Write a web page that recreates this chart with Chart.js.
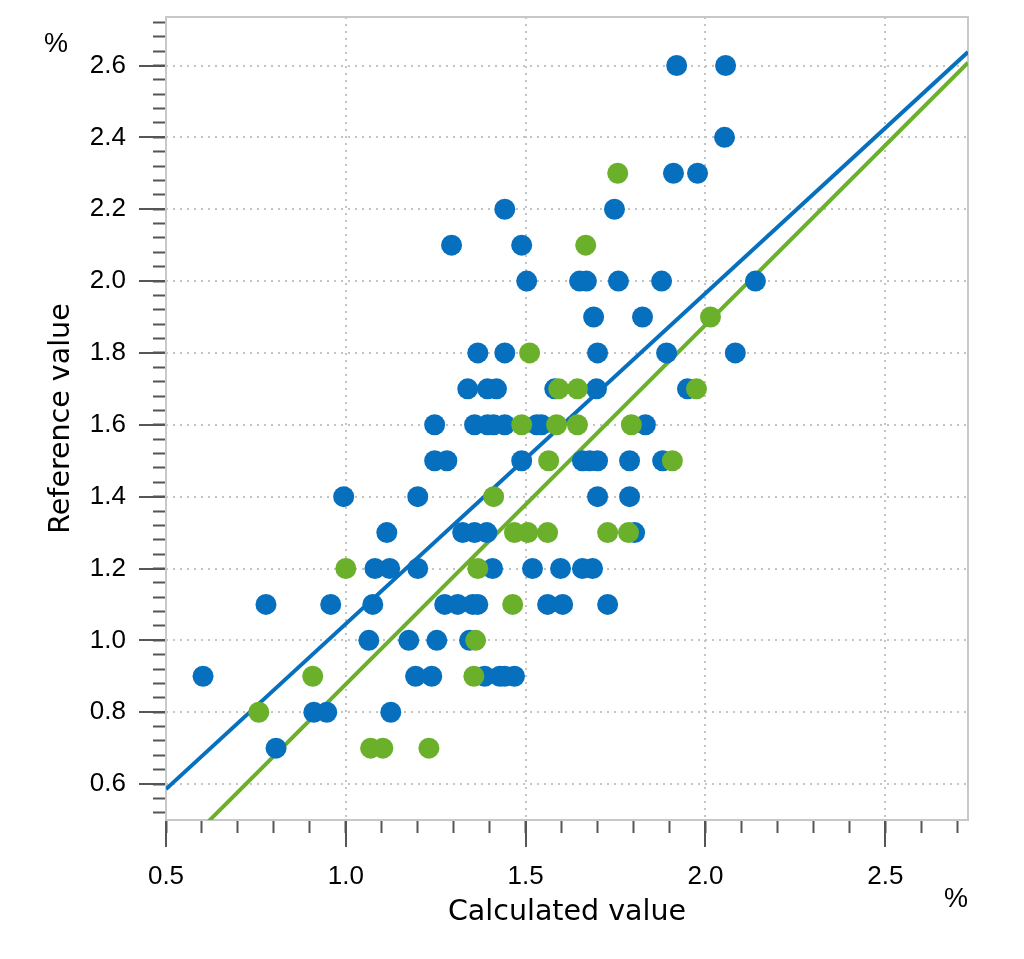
<!DOCTYPE html>
<html>
<head>
<meta charset="utf-8">
<script src="https://cdn.jsdelivr.net/npm/chart.js@4"></script>
<style>
  html, body { margin: 0; padding: 0; background: #fff; }
  #wrap { width: 1024px; height: 959px; }
</style>
</head>
<body>
<div id="wrap"><canvas id="myChart" width="1024" height="959"></canvas></div>
<script>
// valeurs (calculé = x, référence = y)
const calcBlue = [
  1.92, 2.056, 2.053, 1.911, 1.978, 1.442, 1.747, 1.294, 1.489,
  1.503, 1.65, 1.669, 1.758, 1.878, 2.139, 1.689, 1.825,
  1.367, 1.442, 1.70, 1.892, 2.083,
  1.339, 1.394, 1.419, 1.581, 1.697, 1.95,
  1.247, 1.358, 1.394, 1.411, 1.442, 1.531, 1.544, 1.833,
  1.247, 1.281, 1.489, 1.658, 1.678, 1.70, 1.789, 1.881,
  0.994, 1.20, 1.70, 1.789,
  1.114, 1.325, 1.358, 1.392, 1.803,
  1.081, 1.122, 1.20, 1.408, 1.519, 1.597, 1.658, 1.686,
  0.778, 0.958, 1.075, 1.275, 1.311, 1.353, 1.367, 1.561, 1.603, 1.728,
  1.064, 1.175, 1.253, 1.344,
  0.603, 1.194, 1.239, 1.386, 1.428, 1.442, 1.469,
  0.911, 0.947, 1.125,
  0.806
];
const refBlue = [
  2.6, 2.6, 2.4, 2.3, 2.3, 2.2, 2.2, 2.1, 2.1,
  2.0, 2.0, 2.0, 2.0, 2.0, 2.0, 1.9, 1.9,
  1.8, 1.8, 1.8, 1.8, 1.8,
  1.7, 1.7, 1.7, 1.7, 1.7, 1.7,
  1.6, 1.6, 1.6, 1.6, 1.6, 1.6, 1.6, 1.6,
  1.5, 1.5, 1.5, 1.5, 1.5, 1.5, 1.5, 1.5,
  1.4, 1.4, 1.4, 1.4,
  1.3, 1.3, 1.3, 1.3, 1.3,
  1.2, 1.2, 1.2, 1.2, 1.2, 1.2, 1.2, 1.2,
  1.1, 1.1, 1.1, 1.1, 1.1, 1.1, 1.1, 1.1, 1.1, 1.1,
  1.0, 1.0, 1.0, 1.0,
  0.9, 0.9, 0.9, 0.9, 0.9, 0.9, 0.9,
  0.8, 0.8, 0.8,
  0.7
];
const calcGreen = [
  1.756, 1.667, 2.014, 1.511,
  1.592, 1.644, 1.975,
  1.489, 1.586, 1.644, 1.794,
  1.564, 1.908, 1.411,
  1.469, 1.506, 1.561, 1.728, 1.786,
  1.0, 1.367, 1.464, 1.361,
  0.908, 1.356, 0.758,
  1.069, 1.103, 1.231
];
const refGreen = [
  2.3, 2.1, 1.9, 1.8,
  1.7, 1.7, 1.7,
  1.6, 1.6, 1.6, 1.6,
  1.5, 1.5, 1.4,
  1.3, 1.3, 1.3, 1.3, 1.3,
  1.2, 1.2, 1.1, 1.0,
  0.9, 0.9, 0.8,
  0.7, 0.7, 0.7
];
// droites de régression : [pente, ordonnée à l'origine]
const fitBlue = [0.92, 0.126];
const fitGreen = [1.0, -0.122];
// bornes des axes
const xRange = [0.5, 2.73];
const yRange = [0.5, 2.735];

const BLUE = '#0670be';
const GREEN = '#6ab02a';
const TICK = '#555555';

function toPoints(xs, ys) {
  return xs.map((x, i) => ({ x: x, y: ys[i] }));
}
function fitLine(fit) {
  return xRange.map(x => ({ x: x, y: fit[0] * x + fit[1] }));
}
// taille fixe de l'axe, sans marge auto pour les étiquettes
function fixBox(w, h) {
  return s => {
    if (w !== null) s.width = w;
    if (h !== null) s.height = h;
    s.paddingTop = 0; s.paddingBottom = 0; s.paddingLeft = 0; s.paddingRight = 0;
  };
}

const tickFont = { family: "'Liberation Sans', Arial, sans-serif", size: 26 };
const titleFont = { family: "'DejaVu Sans', sans-serif", size: 28.5 };

// cadre gris + symboles %
const decor = {
  id: 'decor',
  beforeDatasetsDraw(chart) {
    const a = chart.chartArea, ctx = chart.ctx;
    ctx.save();
    ctx.strokeStyle = '#c8c8c8';
    ctx.lineWidth = 2;
    ctx.strokeRect(a.left, a.top, a.right - a.left, a.bottom - a.top);
    ctx.restore();
  },
  afterDraw(chart) {
    const a = chart.chartArea, ctx = chart.ctx;
    ctx.save();
    ctx.fillStyle = '#000';
    ctx.font = "27px 'Liberation Sans', Arial, sans-serif";
    ctx.textAlign = 'center';
    ctx.textBaseline = 'middle';
    ctx.fillText('%', a.left - 110, a.top + 28);
    ctx.fillText('%', a.right - 12, a.bottom + 80);
    ctx.restore();
  }
};

new Chart(document.getElementById('myChart').getContext('2d'), {
  type: 'scatter',
  data: {
    datasets: [
      {
        label: 'Validation',
        data: toPoints(calcGreen, refGreen),
        backgroundColor: GREEN,
        borderWidth: 0,
        pointRadius: 10.5,
        order: 0
      },
      {
        label: 'Calibration',
        data: toPoints(calcBlue, refBlue),
        backgroundColor: BLUE,
        borderWidth: 0,
        pointRadius: 10.5,
        order: 1
      },
      {
        label: 'Régression calibration',
        type: 'line',
        data: fitLine(fitBlue),
        borderColor: BLUE,
        borderWidth: 4,
        pointRadius: 0,
        fill: false,
        order: 2
      },
      {
        label: 'Régression validation',
        type: 'line',
        data: fitLine(fitGreen),
        borderColor: GREEN,
        borderWidth: 4,
        pointRadius: 0,
        fill: false,
        order: 3
      }
    ]
  },
  options: {
    responsive: false,
    animation: false,
    layout: { padding: { left: 0, top: 17, right: 56, bottom: 0 } },
    plugins: { legend: { display: false }, tooltip: { enabled: false } },
    scales: {
      x: {
        type: 'linear', position: 'bottom', weight: 1,
        min: xRange[0], max: xRange[1],
        afterFit: fixBox(null, 139),
        ticks: {
          stepSize: 0.5, includeBounds: false, autoSkip: false, maxRotation: 0,
          padding: 14, color: '#000', font: tickFont,
          callback: v => v.toFixed(1)
        },
        grid: { color: '#c4c4c4', lineWidth: 2, tickLength: 27, tickColor: TICK, tickWidth: 2 },
        border: { display: false, dash: [2, 5] },
        title: { display: true, text: 'Calculated value', color: '#000', font: titleFont, padding: { top: 0, bottom: 29 } }
      },
      xMinor: {
        type: 'linear', position: 'bottom', weight: 0,
        min: xRange[0], max: xRange[1],
        afterFit: fixBox(null, 0),
        ticks: { display: false, stepSize: 0.1, includeBounds: false },
        grid: { drawOnChartArea: false, tickLength: 13, tickColor: TICK, tickWidth: 2 },
        border: { display: false }
      },
      y: {
        type: 'linear', position: 'left', weight: 1,
        min: yRange[0], max: yRange[1],
        afterFit: fixBox(166, null),
        ticks: {
          stepSize: 0.2, includeBounds: false, autoSkip: false,
          padding: 13, color: '#000', font: tickFont,
          callback: v => v.toFixed(1)
        },
        grid: { color: '#c4c4c4', lineWidth: 2, tickLength: 27, tickColor: TICK, tickWidth: 2 },
        border: { display: false, dash: [2, 5] },
        title: { display: true, text: 'Reference value', color: '#000', font: titleFont, padding: { top: 44, bottom: 0 } }
      },
      yMinor: {
        type: 'linear', position: 'left', weight: 0,
        min: yRange[0], max: yRange[1],
        afterFit: fixBox(0, null),
        ticks: { display: false, stepSize: 0.04, includeBounds: false },
        grid: { drawOnChartArea: false, tickLength: 13, tickColor: TICK, tickWidth: 2 },
        border: { display: false }
      }
    }
  },
  plugins: [decor]
});
</script>
</body>
</html>
